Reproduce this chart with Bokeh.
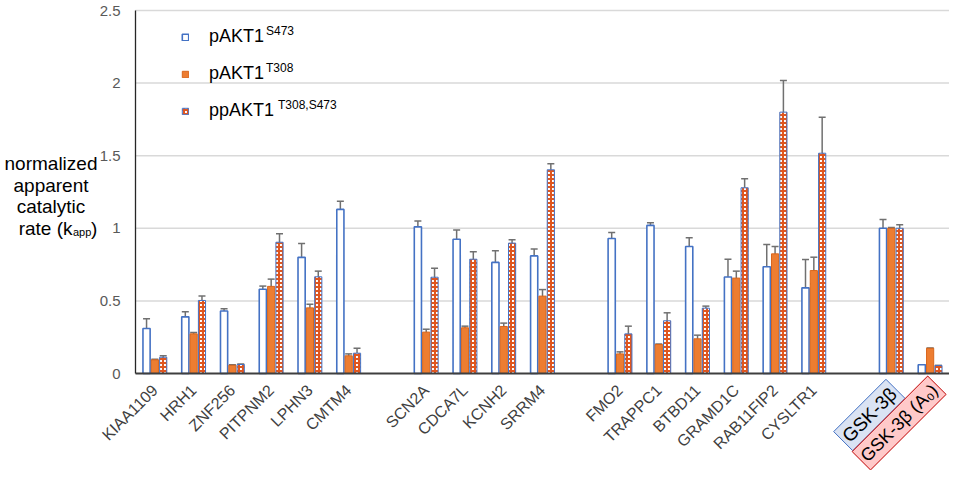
import math
from bokeh.plotting import figure
from bokeh.models import (ColumnDataSource, Whisker, TeeHead, Label, Legend, LegendItem,
                          FixedTicker, NumeralTickFormatter, Range1d)
from bokeh.embed import file_html
from bokeh.resources import INLINE

# ---------------- data ----------------
categories = ["KIAA1109", "HRH1", "ZNF256", "PITPNM2", "LPHN3", "CMTM4",
              "SCN2A", "CDCA7L", "KCNH2", "SRRM4",
              "FMO2", "TRAPPC1", "BTBD11", "GRAMD1C", "RAB11FIP2", "CYSLTR1",
              "GSK-3β", "GSK-3β (A₀)"]
groups = [0, 0, 0, 0, 0, 0,
          1, 1, 1, 1,
          2, 2, 2, 2, 2, 2,
          3, 3]
boxed = [False] * 16 + [True, True]

s473 = [0.31, 0.39, 0.43, 0.58, 0.80, 1.13,
        1.01, 0.925, 0.765, 0.81,
        0.93, 1.02, 0.875, 0.665, 0.735, 0.59,
        1.0, 0.06]
s473_err = [0.067, 0.036, 0.016, 0.022, 0.096, 0.056,
            0.041, 0.064, 0.081, 0.048,
            0.041, 0.018, 0.06, 0.122, 0.154, 0.195,
            0.06, 0.0]
t308 = [0.094, 0.273, 0.057, 0.60, 0.452, 0.122,
        0.285, 0.315, 0.324, 0.533,
        0.135, 0.20, 0.239, 0.657, 0.824, 0.709,
        1.0, 0.174]
t308_err = [0.005, 0.01, 0.003, 0.05, 0.025, 0.013,
            0.02, 0.011, 0.023, 0.045,
            0.014, 0.003, 0.025, 0.048, 0.051, 0.092,
            0.005, 0.0]
pp = [0.112, 0.503, 0.062, 0.904, 0.666, 0.140,
      0.663, 0.787, 0.898, 1.403,
      0.273, 0.363, 0.45, 1.279, 1.80, 1.517,
      1.0, 0.055]
pp_err = [0.01, 0.03, 0.003, 0.058, 0.039, 0.034,
          0.062, 0.051, 0.023, 0.041,
          0.053, 0.055, 0.014, 0.062, 0.218, 0.248,
          0.025, 0.0]

y_ticks = [0, 0.5, 1, 1.5, 2, 2.5]
y_max = 2.5

# ---------------- layout / style ----------------
FONT = "Liberation Sans"
BLUE = "#4472C4"
ORANGE = "#ED7D31"
ERR = "#707070"
BAR_W = 0.185
OFF = 0.215
W, H = 949, 470
LEFT, TOP, BOTTOM = 135, 10, 97          # plot-area position inside the canvas (px)

slots = [i + g for i, g in enumerate(groups)]   # one empty slot between groups
n_slots = slots[-1] + 1
x_lo, x_hi = -0.5, n_slots - 0.5
slot_px = (W - LEFT) / n_slots
y_px = (H - TOP - BOTTOM) / y_max

# the frame covers the whole canvas; axes are pinned at the plot-area edges
p = figure(width=W, height=H, output_backend="svg", toolbar_location=None,
           x_range=Range1d(x_lo - LEFT / slot_px, x_hi),
           y_range=Range1d(-BOTTOM / y_px, y_max + TOP / y_px),
           min_border=0)
p.outline_line_color = None
p.background_fill_color = "white"
p.grid.visible = False

# horizontal gridlines limited to the plot area
p.segment(x0=x_lo, x1=x_hi, y0=y_ticks[1:], y1=y_ticks[1:],
          line_color="#d9d9d9", line_width=1.5, level="underlay")

series = [
    ("pAKT1", s473, s473_err, -OFF, dict(fill_color="white", line_color=BLUE, line_width=1.6)),
    ("pAKT1", t308, t308_err, 0.0, dict(fill_color=ORANGE, line_color="#d9661c", line_width=1)),
    ("ppAKT1", pp, pp_err, OFF, dict(fill_color="white", line_color=BLUE, line_width=1,
                                      hatch_pattern="cross", hatch_color="#e0561f",
                                      hatch_scale=4, hatch_weight=2.1)),
]

renderers = []
for name, vals, errs, off, style in series:
    xs = [s + off for s in slots]
    src = ColumnDataSource(dict(x=xs, top=vals,
                                upper=[v + e for v, e in zip(vals, errs)],
                                lower=[v - e for v, e in zip(vals, errs)]))
    r = p.vbar(x="x", top="top", bottom=0, width=BAR_W, source=src, **style)
    renderers.append(r)
    w = Whisker(base="x", upper="upper", lower="lower", source=src,
                line_color=ERR, line_width=1.5,
                upper_head=TeeHead(size=7, line_color=ERR, line_width=1.5),
                lower_head=TeeHead(size=7, line_color=ERR, line_width=1.5))
    p.add_layout(w)

# axes
p.yaxis.fixed_location = x_lo
p.yaxis.bounds = (0, y_max)
p.yaxis.ticker = FixedTicker(ticks=y_ticks)
p.yaxis.formatter = NumeralTickFormatter(format="0.[0]")
p.yaxis.major_tick_line_color = None
p.yaxis.minor_tick_line_color = None
p.yaxis.axis_line_color = "#262626"
p.yaxis.axis_line_width = 1.3
p.yaxis.major_label_text_font = FONT
p.yaxis.major_label_text_font_size = "15px"
p.yaxis.major_label_text_color = "#595959"
p.yaxis.major_label_standoff = 9

label_slots = [s for s, b in zip(slots, boxed) if not b]
p.xaxis.fixed_location = 0
p.xaxis.bounds = (x_lo, x_hi)
p.xaxis.ticker = FixedTicker(ticks=label_slots)
p.xaxis.major_label_overrides = {s: c for s, c, b in zip(slots, categories, boxed) if not b}
p.xaxis.major_label_orientation = math.pi / 4
p.xaxis.major_tick_line_color = None
p.xaxis.minor_tick_line_color = None
p.xaxis.axis_line_color = "#3f3f3f"
p.xaxis.axis_line_width = 2
p.xaxis.major_label_text_font = FONT
p.xaxis.major_label_text_font_size = "16px"
p.xaxis.major_label_text_color = "#404040"
p.xaxis.major_label_standoff = 8


def label(text, x, y, size, align="left", baseline="alphabetic", **kw):
    """x, y in px relative to the plot-area's bottom-left corner"""
    return Label(x=LEFT + x, y=BOTTOM + y, x_units="screen", y_units="screen", text=text,
                 text_align=align, text_baseline=baseline, text_font=FONT,
                 text_font_size=size, text_color="black", **kw)


# boxed category labels (GSK-3β controls)
box_styles = {"GSK-3β": ("#dae3f3", BLUE, -22, -41.5, "19px"),
              "GSK-3β (A₀)": ("#ffc9c9", "#c00000", -31, -49.5, "18px")}
for (s, c, b) in zip(slots, categories, boxed):
    if not b:
        continue
    fill, line, xo, yy, fs = box_styles[c]
    p.add_layout(label(c, (s + 0.5) * slot_px + xo, yy, fs, align="center",
                       baseline="middle", angle=math.pi / 4,
                       background_fill_color=fill, border_line_color=line,
                       border_line_width=1, padding=3))

# y-axis title (multi-line with subscript)
title_lines = ["normalized", "apparent", "catalytic"]
title_y = [210, 188.5, 167]
for t, yy in zip(title_lines, title_y):
    p.add_layout(label(t, -84.5, yy, "19px", align="center"))
p.add_layout(label("rate (k", -63, 145.5, "19px", align="right"))
p.add_layout(label("app", -62.5, 141.5, "11px"))
p.add_layout(label(")", -44.5, 145.5, "19px"))

# legend
legend = Legend(items=[LegendItem(label=series[i][0], renderers=[renderers[i]]) for i in range(3)],
                location=(LEFT + 46, BOTTOM + 252), glyph_width=8, glyph_height=8,
                label_standoff=20, label_height=20, spacing=16, padding=0, margin=0,
                border_line_color=None, background_fill_alpha=0,
                label_text_font=FONT, label_text_font_size="18px", label_text_color="black")
p.add_layout(legend)

sup_texts = ["S473", "T308", "T308,S473"]
sup_x = [130.5, 130.5, 142.5]
sup_y = [342.5, 305.8, 269.0]
for t, xx, yy in zip(sup_texts, sup_x, sup_y):
    p.add_layout(label(t, xx, yy, "12px", baseline="middle"))

open("out.html", "w").write(file_html(p, INLINE))
